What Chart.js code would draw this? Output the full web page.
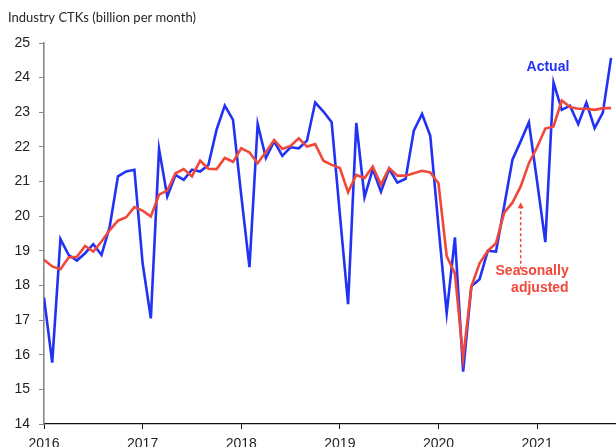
<!DOCTYPE html>
<html>
<head>
<meta charset="utf-8">
<script src="https://cdn.jsdelivr.net/npm/chart.js@4"></script>
<style>
  html, body { margin: 0; padding: 0; background: #fff; }
  #wrap { width: 616px; height: 447px; position: relative; }
</style>
</head>
<body>
<div id="wrap"><canvas id="c" width="616" height="447"></canvas></div>
<script>
// ---- data ----
const startYear = 2016;
const years = [2016, 2017, 2018, 2019, 2020, 2021];
const actual = [
  17.65, 15.77, 19.34, 18.88, 18.72, 18.93, 19.19, 18.88, 19.70, 21.15, 21.29, 21.34,
  18.64, 17.05, 21.94, 20.57, 21.19, 21.05, 21.34, 21.29, 21.48, 22.50, 23.19, 22.78,
  20.60, 18.53, 22.66, 21.68, 22.16, 21.74, 21.99, 21.96, 22.18, 23.28, 23.02, 22.71,
  20.05, 17.46, 22.69, 20.55, 21.36, 20.71, 21.36, 20.97, 21.08, 22.47, 22.95, 22.32,
  19.70, 17.20, 19.39, 15.51, 17.98, 18.18, 19.00, 18.98, 20.30, 21.63, 22.16, 22.71,
  21.00, 19.25, 23.86, 23.07, 23.19, 22.66, 23.28, 22.54, 22.99, 24.57
];
const seasonallyAdjusted = [
  18.74, 18.55, 18.47, 18.81, 18.83, 19.14, 18.98, 19.27, 19.60, 19.87, 19.97, 20.26,
  20.16, 19.99, 20.62, 20.74, 21.24, 21.36, 21.15, 21.60, 21.37, 21.36, 21.68, 21.57,
  21.96, 21.84, 21.53, 21.85, 22.20, 21.94, 22.03, 22.25, 22.01, 22.08, 21.60, 21.48,
  21.39, 20.69, 21.19, 21.10, 21.43, 20.91, 21.39, 21.17, 21.17, 21.24, 21.31, 21.26,
  20.95, 18.85, 18.35, 15.90, 17.97, 18.64, 19.00, 19.22, 20.10, 20.39, 20.86, 21.53,
  21.99, 22.53, 22.59, 23.34, 23.15, 23.10, 23.10, 23.07, 23.12, 23.12
];
// month categories (as fractional years)
const months = actual.map((_, i) => startYear + i / 12);
const titleText = 'Industry CTKs (billion per month)';
const actualLabel = 'Actual';
const saLabel = ['Seasonally', 'adjusted'];

const BLUE = '#2232f5';
const RED = '#f0483a';

const annotate = {
  id: 'annotate',
  afterDraw(chart) {
    const ctx = chart.ctx;
    const xs = chart.scales.x, ys = chart.scales.y;
    ctx.save();
    // title
    ctx.fillStyle = '#262626';
    ctx.font = '13px Lato';
    ctx.textAlign = 'left';
    ctx.textBaseline = 'middle';
    ctx.fillText(titleText, 8, 18);
    // Actual label
    ctx.font = 'bold 14px "Liberation Sans"';
    ctx.fillStyle = BLUE;
    ctx.textAlign = 'center';
    ctx.fillText(actualLabel, xs.getPixelForValue(2021.11), ys.getPixelForValue(24.29));
    // Seasonally adjusted label
    ctx.fillStyle = RED;
    ctx.textAlign = 'right';
    const rx = xs.getPixelForValue(2021.32);
    ctx.fillText(saLabel[0], rx, ys.getPixelForValue(18.42));
    ctx.fillText(saLabel[1], rx, ys.getPixelForValue(17.93));
    // dashed arrow
    const ax = xs.getPixelForValue(2020 + 10 / 12);
    const y0 = ys.getPixelForValue(18.47);
    const y1 = ys.getPixelForValue(20.40);
    ctx.strokeStyle = RED;
    ctx.lineWidth = 1.5;
    ctx.setLineDash([3, 2.5]);
    ctx.beginPath();
    ctx.moveTo(ax, y0);
    ctx.lineTo(ax, y1 + 4);
    ctx.stroke();
    ctx.setLineDash([]);
    ctx.fillStyle = RED;
    ctx.beginPath();
    ctx.moveTo(ax, y1);
    ctx.lineTo(ax - 3, y1 + 6);
    ctx.lineTo(ax + 3, y1 + 6);
    ctx.closePath();
    ctx.fill();
    ctx.restore();
  }
};

new Chart(document.getElementById('c'), {
  type: 'line',
  data: {
    datasets: [
      {
        label: 'Seasonally adjusted',
        data: months.map((m, i) => ({ x: m, y: seasonallyAdjusted[i] })),
        borderColor: RED,
        borderWidth: 2.6,
        pointRadius: 0,
        tension: 0,
        order: 0
      },
      {
        label: 'Actual',
        data: months.map((m, i) => ({ x: m, y: actual[i] })),
        borderColor: BLUE,
        borderWidth: 2.6,
        pointRadius: 0,
        tension: 0,
        order: 1
      }
    ]
  },
  options: {
    responsive: false,
    animation: false,
    devicePixelRatio: 1,
    layout: { padding: { top: 43, right: 0, left: 0, bottom: 0 } },
    plugins: { legend: { display: false }, tooltip: { enabled: false } },
    scales: {
      x: {
        type: 'linear',
        min: 2016,
        max: 2021.8,
        afterBuildTicks: s => { s.ticks = years.map(v => ({ value: v })); },
        afterFit: s => { s.height = 23; },
        ticks: {
          callback: v => String(v),
          color: '#222',
          font: { family: 'Liberation Sans', size: 14 },
          padding: 7,
          maxRotation: 0,
          autoSkip: false
        },
        grid: { drawOnChartArea: false, drawTicks: true, tickLength: 5, color: '#111' },
        border: { display: true, color: '#111', width: 1.2 }
      },
      y: {
        min: 14,
        max: 25,
        afterFit: s => { s.width = 44; },
        ticks: {
          stepSize: 1,
          color: '#222',
          font: { family: 'Liberation Sans', size: 14 },
          padding: 9
        },
        grid: { drawOnChartArea: false, drawTicks: true, tickLength: 5, color: '#888' },
        border: { display: true, color: '#888', width: 1.6 }
      }
    }
  },
  plugins: [annotate]
});
</script>
</body>
</html>
